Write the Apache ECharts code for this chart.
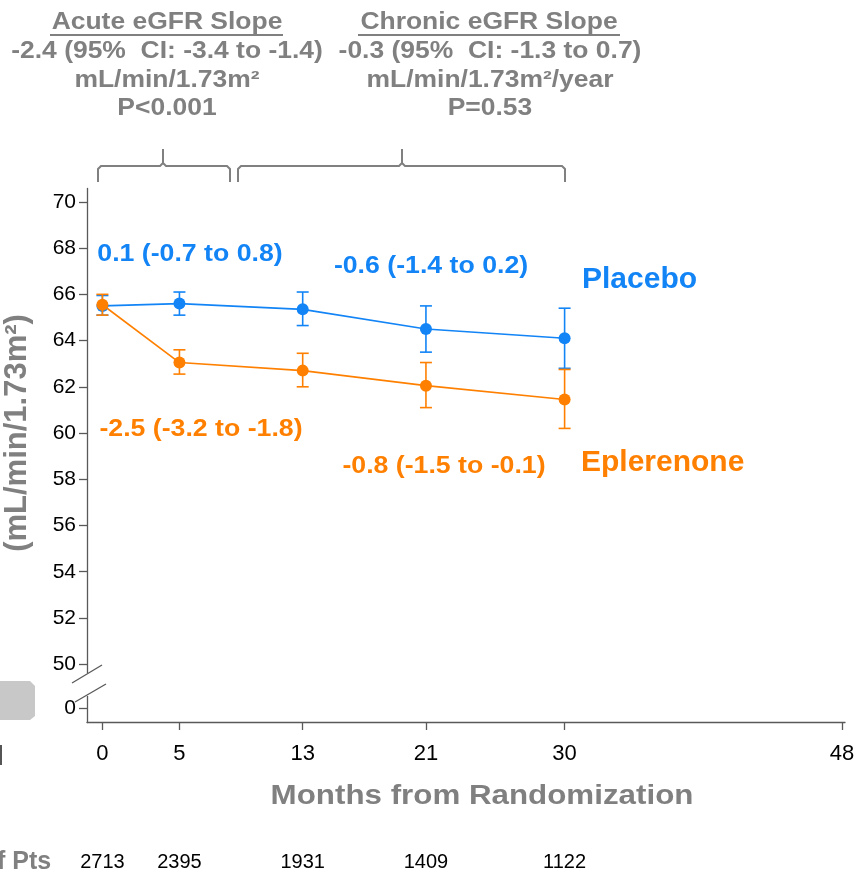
<!DOCTYPE html>
<html>
<head>
<meta charset="utf-8">
<script src="https://cdn.jsdelivr.net/npm/echarts@6/dist/echarts.min.js"></script>
<style>
html, body { margin: 0; padding: 0; background: #fff; }
#chart { width: 865px; height: 874px; }
</style>
</head>
<body>
<div id="chart"></div>
<script>
// visit months and ticks
const months = [0, 5, 13, 21, 30]
const xTicks = [0, 5, 13, 21, 30, 48]
const yTicks = [0, 50, 52, 54, 56, 58, 60, 62, 64, 66, 68, 70]
const patients = [2713, 2395, 1931, 1409, 1122]

// eGFR mean and 95% CI per visit
const placeboMean = [65.5, 65.6, 65.35, 64.5, 64.1]
const placeboLow = [65.1, 65.1, 64.65, 63.5, 62.8]
const placeboHigh = [65.95, 66.1, 66.1, 65.5, 65.4]
const eplMean = [65.55, 63.05, 62.7, 62.05, 61.45]
const eplLow = [65.1, 62.55, 62.0, 61.1, 60.2]
const eplHigh = [66.0, 63.6, 63.45, 63.05, 62.75]

const BLUE = '#1284f6'
const ORANGE = '#ff8000'
const GRAY = '#808080'
const AXIS = '#595959'
const FONT = "'Liberation Sans', Arial, sans-serif"

function errorBar(color) {
  return function (params, api) {
    const x = api.value(0)
    const lo = api.coord([x, api.value(1)])
    const hi = api.coord([x, api.value(2)])
    const w = 6
    const style = { stroke: color, lineWidth: 1.6 }
    return {
      type: 'group',
      children: [
        { type: 'line', shape: { x1: lo[0], y1: lo[1], x2: hi[0], y2: hi[1] }, style },
        { type: 'line', shape: { x1: lo[0] - w, y1: lo[1], x2: lo[0] + w, y2: lo[1] }, style },
        { type: 'line', shape: { x1: hi[0] - w, y1: hi[1], x2: hi[0] + w, y2: hi[1] }, style }
      ]
    }
  }
}

function txt(text, x, y, size, color, opts) {
  opts = opts || {}
  return {
    type: 'text',
    x: x,
    y: y,
    scaleX: opts.sx || 1,
    rotation: opts.rot || 0,
    z: 100,
    style: {
      text: text,
      x: 0,
      y: 0,
      fill: color,
      font: (opts.weight || 'bold') + ' ' + size + 'px ' + FONT,
      textAlign: opts.align || 'center',
      textVerticalAlign: 'middle'
    }
  }
}

function line(points, color, width) {
  return {
    type: 'polyline',
    z: 100,
    shape: { points: points },
    style: { stroke: color, lineWidth: width || 2, fill: null }
  }
}

const mychart = echarts.init(document.getElementById('chart'))

const option = {
  backgroundColor: '#fff',
  animation: false,
  grid: { left: 87, right: 20, top: 188, bottom: 152 },
  xAxis: [{
    type: 'value',
    min: -1,
    max: 48.2,
    axisLine: { show: true, onZero: false, lineStyle: { color: AXIS, width: 1.3 } },
    axisTick: { show: true, length: 8, customValues: xTicks, lineStyle: { color: AXIS, width: 1.3 } },
    axisLabel: { customValues: xTicks, color: '#000', fontSize: 22, fontFamily: FONT, margin: 21 },
    splitLine: { show: false }
  }, {
    type: 'value',
    min: -1,
    max: 48.2,
    position: 'bottom',
    offset: 130,
    axisLine: { show: false, onZero: false },
    axisTick: { show: false },
    axisLabel: {
      customValues: months,
      color: '#000',
      fontSize: 20,
      fontFamily: FONT,
      margin: 0,
      formatter: v => String(patients[months.indexOf(v)])
    },
    splitLine: { show: false }
  }],
  yAxis: {
    type: 'value',
    min: -0.6,
    max: 70.6,
    breaks: [{ start: 0.5, end: 49.5, gap: 0.9 }],
    breakArea: { show: false },
    axisLine: { show: true, onZero: false, lineStyle: { color: AXIS, width: 1.3 } },
    axisTick: { show: true, length: 8, customValues: yTicks, lineStyle: { color: AXIS, width: 1.3 } },
    axisLabel: { customValues: yTicks, color: '#000', fontSize: 21, fontFamily: FONT, margin: 11 },
    splitLine: { show: false }
  },
  series: [{
    name: 'Placebo CI',
    type: 'custom',
    z: 2,
    renderItem: errorBar(BLUE),
    data: months.map((m, i) => [m, placeboLow[i], placeboHigh[i]])
  }, {
    name: 'Placebo',
    type: 'line',
    z: 3,
    symbol: 'circle',
    symbolSize: 12,
    color: BLUE,
    lineStyle: { width: 1.6, color: BLUE },
    data: months.map((m, i) => [m, placeboMean[i]])
  }, {
    name: 'Eplerenone CI',
    type: 'custom',
    z: 4,
    renderItem: errorBar(ORANGE),
    data: months.map((m, i) => [m, eplLow[i], eplHigh[i]])
  }, {
    name: 'Eplerenone',
    type: 'line',
    z: 5,
    symbol: 'circle',
    symbolSize: 12,
    color: ORANGE,
    lineStyle: { width: 1.6, color: ORANGE },
    data: months.map((m, i) => [m, eplMean[i]])
  }],
  graphic: [
    // slope summaries
    txt('Acute eGFR Slope', 167, 23, 23, GRAY, { sx: 1.15 }),
    line([[50, 35], [283, 35]], GRAY, 2),
    txt('-2.4 (95%  CI: -3.4 to -1.4)', 167, 52, 23, GRAY, { sx: 1.15 }),
    txt('mL/min/1.73m²', 167, 81, 23, GRAY, { sx: 1.15 }),
    txt('P<0.001', 167, 109, 23, GRAY, { sx: 1.15 }),
    txt('Chronic eGFR Slope', 489, 23, 23, GRAY, { sx: 1.15 }),
    line([[358, 35], [620, 35]], GRAY, 2),
    txt('-0.3 (95%  CI: -1.3 to 0.7)', 490, 52, 23, GRAY, { sx: 1.15 }),
    txt('mL/min/1.73m²/year', 490, 81, 23, GRAY, { sx: 1.15 }),
    txt('P=0.53', 490, 109, 23, GRAY, { sx: 1.15 }),
    // braces
    line([[98, 182], [98, 169], [101, 166], [160, 166], [163, 163], [163, 149], [163, 163], [166, 166], [227, 166], [230, 169], [230, 182]], GRAY, 2),
    line([[238, 182], [238, 169], [241, 166], [399, 166], [402, 163], [402, 149], [402, 163], [405, 166], [562, 166], [565, 169], [565, 182]], GRAY, 2),
    // series annotations
    txt('0.1 (-0.7 to 0.8)', 190, 255, 23, BLUE, { sx: 1.16 }),
    txt('-0.6 (-1.4 to 0.2)', 431, 267, 23, BLUE, { sx: 1.16 }),
    txt('Placebo', 582, 280, 30, BLUE, { align: 'left' }),
    txt('-2.5 (-3.2 to -1.8)', 201, 430, 23, ORANGE, { sx: 1.16 }),
    txt('-0.8 (-1.5 to -0.1)', 444, 467, 23, ORANGE, { sx: 1.16 }),
    txt('Eplerenone', 581, 463, 30, ORANGE, { align: 'left' }),
    // axis titles
    txt('(mL/min/1.73m²)', 17, 433, 31, GRAY, { rot: Math.PI / 2 }),
    txt('Months from Randomization', 482, 797, 27, GRAY, { sx: 1.16 }),
    txt('f Pts', -3, 862, 25, GRAY, { align: 'left' }),
    // axis break marks
    { type: 'rect', z: 99, shape: { x: 82, y: 673, width: 10, height: 20 }, style: { fill: '#fff' } },
    line([[72, 683], [102, 665]], AXIS, 1.3),
    line([[75, 702], [106, 684]], AXIS, 1.3),
    // cropped slide remnants on the left
    { type: 'polygon', z: 90, shape: { points: [[0, 681], [30, 681], [35, 686], [35, 716], [30, 720], [0, 720]] }, style: { fill: '#c8c8c8' } },
    line([[1, 745], [1, 765]], '#555', 2)
  ]
}

mychart.setOption(option, true)
</script>
</body>
</html>
